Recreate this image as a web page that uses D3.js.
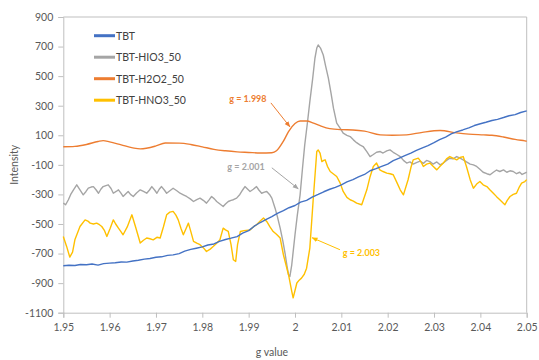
<!DOCTYPE html>
<html>
<head>
<meta charset="utf-8">
<script src="https://cdn.jsdelivr.net/npm/d3@7"></script>
<style>
  html, body { margin: 0; padding: 0; background: #fff; }
  svg { display: block; font-family: Lato, "Noto Sans", sans-serif; }
</style>
</head>
<body>
<svg id="chart" width="539" height="360"></svg>
<script>
// EPR spectra: intensity versus g value
const xTicks = [1.95, 1.96, 1.97, 1.98, 1.99, 2.0, 2.01, 2.02, 2.03, 2.04, 2.05];
const xTickLabels = ["1.95", "1.96", "1.97", "1.98", "1.99", "2", "2.01", "2.02", "2.03", "2.04", "2.05"];
const yTicks = [900, 700, 500, 300, 100, -100, -300, -500, -700, -900, -1100];

const seriesNames = ["TBT", "TBT-HIO3_50", "TBT-H2O2_50", "TBT-HNO3_50"];
const seriesColors = ["#4472C4", "#A5A5A5", "#ED7D31", "#FFC000"];

// [g value, intensity]
const tbt = [
  [1.95,-782],[1.9512,-779],[1.9525,-781],[1.9537,-774],[1.955,-776],[1.9562,-771],[1.9575,-778],[1.9587,-768],
  [1.96,-765],[1.9612,-762],[1.9625,-757],[1.9637,-758],[1.965,-750],[1.9662,-745],[1.9675,-738],[1.9687,-733],
  [1.97,-725],[1.9712,-722],[1.9725,-712],[1.9737,-709],[1.975,-700],[1.9762,-684],[1.9775,-672],[1.9787,-664],
  [1.98,-655],[1.9812,-642],[1.9825,-635],[1.9837,-618],[1.985,-605],[1.9862,-596],[1.9875,-585],[1.9887,-562],
  [1.99,-545],[1.9912,-515],[1.9925,-490],[1.9937,-470],[1.995,-450],[1.9962,-428],[1.9975,-410],[1.9987,-390],
  [2.0,-375],[2.0012,-352],[2.0025,-340],[2.0037,-318],[2.005,-300],[2.0062,-282],[2.0075,-265],[2.0087,-252],
  [2.01,-235],[2.0112,-215],[2.0125,-200],[2.0137,-182],[2.015,-165],[2.0162,-140],[2.0175,-125],[2.0187,-110],
  [2.02,-95],[2.0212,-72],[2.0225,-55],[2.0237,-38],[2.025,-20],[2.0262,-2],[2.0275,15],[2.0287,30],
  [2.03,50],[2.0312,70],[2.0325,88],[2.0337,110],[2.035,125],[2.0362,136],[2.0375,150],[2.0387,166],
  [2.04,178],[2.0412,188],[2.0425,200],[2.0437,208],[2.045,220],[2.0462,232],[2.0475,240],[2.0487,254],[2.05,265]
];

const tbtHio3 = [
  [1.95,-359],[1.9505,-370],[1.9511,-336],[1.9516,-300],[1.9522,-269],[1.9529,-235],[1.9536,-269],[1.9543,-303],
  [1.9549,-280],[1.9554,-258],[1.956,-250],[1.9565,-247],[1.9571,-270],[1.9576,-292],[1.9581,-265],[1.9586,-247],
  [1.9592,-240],[1.9597,-235],[1.9603,-260],[1.9608,-292],[1.9614,-280],[1.9619,-269],[1.9624,-290],[1.9629,-314],
  [1.9635,-295],[1.964,-280],[1.9645,-300],[1.9651,-314],[1.9658,-290],[1.9666,-269],[1.9673,-280],[1.968,-292],
  [1.9686,-270],[1.9691,-247],[1.9697,-270],[1.9702,-292],[1.9707,-265],[1.9712,-247],[1.9718,-270],[1.9723,-292],
  [1.973,-275],[1.9737,-258],[1.9745,-275],[1.9752,-292],[1.9759,-303],[1.9766,-314],[1.9774,-330],[1.9781,-348],
  [1.9788,-335],[1.9795,-325],[1.9802,-340],[1.9809,-359],[1.9815,-335],[1.982,-314],[1.9826,-330],[1.9831,-348],
  [1.9838,-365],[1.9845,-382],[1.985,-365],[1.9856,-348],[1.9862,-340],[1.9867,-336],[1.9874,-325],[1.9881,-300],
  [1.9887,-270],[1.9892,-247],[1.9898,-265],[1.9903,-280],[1.991,-265],[1.9917,-247],[1.9922,-270],[1.9928,-292],
  [1.9934,-285],[1.9939,-280],[1.9945,-300],[1.995,-325],[1.9957,-393],[1.9962,-450],[1.9968,-528],[1.9974,-620],
  [1.9979,-708],[1.9983,-790],[1.9986,-843],[1.9989,-855],[1.9993,-776],[2.0,-573],[2.0005,-440],[2.0011,-303],
  [2.0016,-130],[2.0021,35],[2.0027,190],[2.0032,328],[2.0038,480],[2.0043,621],[2.0047,690],[2.005,711],
  [2.0055,690],[2.0061,643],[2.0066,570],[2.0072,486],[2.0078,380],[2.0083,283],[2.009,182],[2.0097,150],
  [2.0104,114],[2.0112,100],[2.0119,91],[2.0126,69],[2.0133,50],[2.014,35],[2.0147,24],[2.0155,-10],
  [2.0162,-44],[2.0169,-30],[2.0176,-15],[2.0184,-10],[2.019,-20],[2.0198,-5],[2.0205,1],[2.0212,-15],
  [2.022,-30],[2.0227,-44],[2.0234,-70],[2.0241,-88],[2.0248,-80],[2.0255,-95],[2.0262,-85],[2.027,-75],
  [2.0277,-90],[2.0284,-70],[2.0291,-78],[2.0298,-95],[2.0306,-80],[2.0313,-100],[2.032,-88],[2.0327,-70],
  [2.0334,-55],[2.0341,-60],[2.0349,-44],[2.0356,-55],[2.0363,-66],[2.037,-80],[2.0378,-95],[2.0385,-100],
  [2.0392,-111],[2.0399,-130],[2.0406,-150],[2.0414,-160],[2.0421,-167],[2.0428,-150],[2.0435,-135],[2.0442,-145],
  [2.045,-134],[2.0457,-150],[2.0464,-140],[2.0471,-145],[2.0478,-160],[2.0485,-150],[2.049,-165],[2.0496,-156],[2.05,-150]
];

const tbtH2o2 = [
  [1.95,22],[1.9525,25],[1.955,38],[1.9575,58],[1.9586,64],[1.96,55],[1.9625,35],[1.965,15],[1.9666,8],
  [1.97,28],[1.972,48],[1.975,47],[1.9775,38],[1.98,22],[1.9825,5],[1.985,-5],[1.9875,-12],[1.99,-16],
  [1.9925,-20],[1.995,-18],[1.996,-5],[1.9975,60],[1.9986,125],[2.0,180],[2.0011,197],[2.0025,197],
  [2.004,182],[2.0054,165],[2.0075,145],[2.01,138],[2.0125,136],[2.015,128],[2.0184,103],[2.021,100],
  [2.0241,103],[2.0275,120],[2.0313,132],[2.0349,116],[2.0375,108],[2.0407,103],[2.0425,100],[2.045,88],
  [2.0475,72],[2.0496,62],[2.05,60]
];

const tbtHno3 = [
  [1.95,-584],[1.9507,-650],[1.9514,-724],[1.952,-690],[1.9525,-607],[1.9536,-517],[1.9547,-472],[1.9553,-480],
  [1.9558,-494],[1.9565,-500],[1.9572,-494],[1.9578,-505],[1.9583,-517],[1.9589,-545],[1.9594,-584],[1.9601,-530],
  [1.9608,-472],[1.9613,-500],[1.9619,-528],[1.9624,-550],[1.9629,-573],[1.9638,-520],[1.9648,-438],[1.9656,-520],
  [1.9666,-629],[1.9673,-610],[1.968,-595],[1.9687,-600],[1.9694,-607],[1.9702,-590],[1.9709,-595],[1.9716,-520],
  [1.9723,-438],[1.973,-420],[1.9737,-415],[1.9743,-440],[1.9748,-472],[1.9754,-530],[1.9759,-573],[1.9765,-530],
  [1.977,-494],[1.9776,-560],[1.9781,-618],[1.9788,-630],[1.9795,-640],[1.9802,-660],[1.9809,-686],[1.9817,-670],
  [1.9824,-651],[1.9831,-630],[1.9838,-607],[1.9845,-528],[1.985,-540],[1.9856,-550],[1.9862,-640],[1.9867,-742],
  [1.9872,-753],[1.9876,-640],[1.9882,-551],[1.989,-545],[1.9903,-540],[1.991,-520],[1.9917,-505],[1.9925,-480],
  [1.9932,-460],[1.9939,-483],[1.9946,-520],[1.9953,-551],[1.996,-570],[1.9968,-595],[1.9975,-708],[1.9986,-843],
  [1.9993,-956],[1.9996,-1000],[2.0,-950],[2.0004,-899],[2.0009,-880],[2.0014,-866],[2.002,-840],[2.0025,-799],
  [2.0032,-663],[2.0039,-348],[2.0047,-10],[2.005,1],[2.0054,-20],[2.0058,-78],[2.0062,-70],[2.0065,-66],
  [2.007,-110],[2.0076,-145],[2.009,-179],[2.0097,-220],[2.0104,-280],[2.0112,-320],[2.0119,-336],[2.0126,-345],
  [2.0133,-359],[2.0144,-370],[2.0155,-269],[2.0162,-180],[2.0169,-111],[2.0176,-88],[2.0183,-134],[2.019,-145],
  [2.0198,-156],[2.0205,-160],[2.0212,-167],[2.022,-220],[2.0227,-269],[2.0234,-303],[2.0244,-201],[2.025,-120],
  [2.0255,-66],[2.0266,-55],[2.0272,-80],[2.0277,-111],[2.0284,-95],[2.0291,-88],[2.0298,-110],[2.0306,-134],
  [2.0313,-110],[2.032,-88],[2.0327,-60],[2.0334,-44],[2.0341,-55],[2.0349,-66],[2.0356,-50],[2.0363,-44],
  [2.037,-111],[2.0378,-200],[2.0385,-258],[2.0392,-230],[2.0399,-213],[2.0406,-235],[2.0414,-247],[2.0421,-270],
  [2.0428,-292],[2.0435,-315],[2.0442,-336],[2.0448,-355],[2.0453,-370],[2.0458,-340],[2.0464,-314],[2.0471,-300],
  [2.0478,-292],[2.0484,-250],[2.0489,-224],[2.0496,-213],[2.05,-200]
];

// Annotated g values: label position and leader line (start and arrow tip), in data units
const annotations = [
  { text: "g = 1.998", series: 2, at: [1.9858, 326], from: [1.9948, 319], tip: [1.9989, 157] },
  { text: "g = 2.001", series: 1, at: [1.9854, -134], from: [1.995, -120], tip: [2.0007, -262] },
  { text: "g = 2.003", series: 3, at: [2.0103, -718], from: [2.0097, -674], tip: [2.0037, -593] }
];

const svg = d3.select("#chart");
const W = 539, H = 360;
const margin = { top: 17, right: 12.3, bottom: 47.3, left: 63.3 };
const plotW = W - margin.left - margin.right;
const plotH = H - margin.top - margin.bottom;

const x = d3.scaleLinear().domain([1.95, 2.05]).range([margin.left, margin.left + plotW]);
const y = d3.scaleLinear().domain([-1100, 900]).range([margin.top + plotH, margin.top]);

const axisColor = "#BFBFBF";
const textColor = "#595959";

// plot frame (top and right edges)
svg.append("path")
  .attr("d", `M${x(1.95)},${y(900)}H${x(2.05)}V${y(-1100)}`)
  .attr("fill", "none").attr("stroke", axisColor).attr("stroke-width", 1);

// axes
const xAxis = svg.append("g")
  .attr("transform", `translate(0,${y(-1100)})`)
  .call(d3.axisBottom(x).tickValues(xTicks).tickFormat((d, i) => xTickLabels[i]).tickSize(5).tickPadding(6));
const yAxis = svg.append("g")
  .attr("transform", `translate(${x(1.95)},0)`)
  .call(d3.axisLeft(y).tickValues(yTicks).tickFormat(d3.format("d")).tickSize(5).tickPadding(5));
[xAxis, yAxis].forEach(a => {
  a.select(".domain").attr("stroke", axisColor);
  a.selectAll(".tick line").attr("stroke", axisColor);
  a.selectAll(".tick text").attr("fill", textColor).style("font-size", "10.5px")
    .style("font-family", "Lato, 'Noto Sans', sans-serif");
});
yAxis.selectAll(".tick text").text(d => d < 0 ? "-" + Math.abs(d) : d);

// axis titles
svg.append("text")
  .attr("x", 272).attr("y", 356)
  .attr("text-anchor", "middle").attr("fill", textColor).style("font-size", "10.5px")
  .text("g value");
svg.append("text")
  .attr("transform", `translate(18,${(y(900) + y(-1100)) / 2}) rotate(-90)`)
  .attr("text-anchor", "middle").attr("fill", textColor).style("font-size", "10.5px")
  .text("Intensity");

// spectra
const line = d3.line().x(d => x(d[0])).y(d => y(d[1]));
const smooth = d3.line().x(d => x(d[0])).y(d => y(d[1])).curve(d3.curveMonotoneX);
const drawOrder = [
  { data: tbtHio3, i: 1, gen: line },
  { data: tbtH2o2, i: 2, gen: smooth },
  { data: tbtHno3, i: 3, gen: line },
  { data: tbt, i: 0, gen: line }
];
svg.append("g").selectAll("path").data(drawOrder).join("path")
  .attr("d", s => s.gen(s.data))
  .attr("fill", "none")
  .attr("stroke", s => seriesColors[s.i])
  .attr("stroke-width", 1.4)
  .attr("stroke-linejoin", "round");

// arrow markers
const defs = svg.append("defs");
seriesColors.forEach((c, i) => {
  defs.append("marker")
    .attr("id", "arrow" + i)
    .attr("viewBox", "0 0 10 10").attr("refX", 9).attr("refY", 5)
    .attr("markerWidth", 6).attr("markerHeight", 6).attr("orient", "auto-start-reverse")
    .append("path").attr("d", "M0,1L10,5L0,9z").attr("fill", c);
});

// annotations with leader arrows
const ann = svg.append("g");
annotations.forEach(a => {
  const c = seriesColors[a.series];
  ann.append("text")
    .attr("x", x(a.at[0])).attr("y", y(a.at[1]))
    .attr("fill", c).style("font-size", "9px").style("font-weight", "bold")
    .text(a.text);
  ann.append("line")
    .attr("x1", x(a.from[0])).attr("y1", y(a.from[1]))
    .attr("x2", x(a.tip[0])).attr("y2", y(a.tip[1]))
    .attr("stroke", c).attr("stroke-width", 1)
    .attr("marker-end", `url(#arrow${a.series})`);
});

// legend
const legend = svg.append("g");
seriesNames.forEach((n, i) => {
  const ly = 35.7 + i * 21.5;
  legend.append("line")
    .attr("x1", 94).attr("x2", 115).attr("y1", ly).attr("y2", ly)
    .attr("stroke", seriesColors[i]).attr("stroke-width", 3);
  legend.append("text")
    .attr("x", 116).attr("y", ly + 3.8)
    .attr("fill", "#404040").style("font-size", "10.5px")
    .text(n);
});
</script>
</body>
</html>
